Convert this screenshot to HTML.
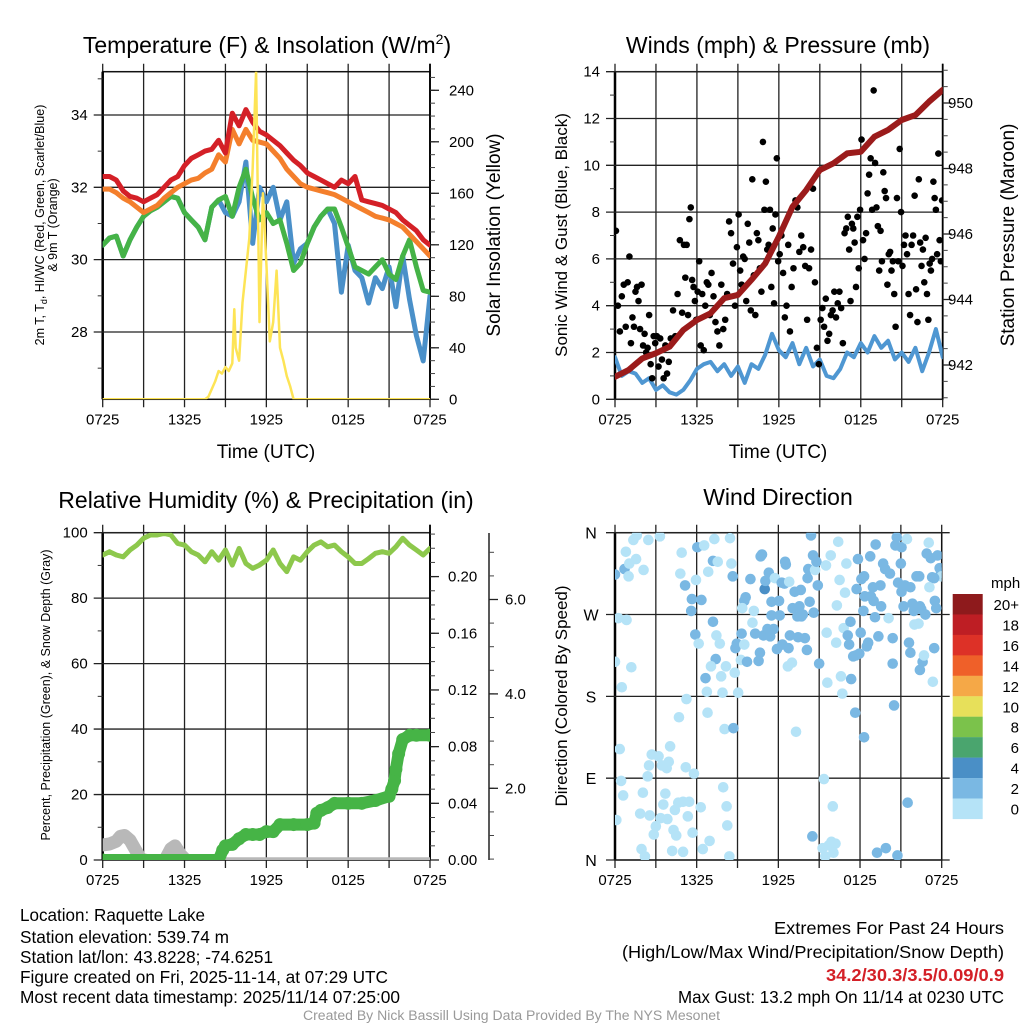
<!DOCTYPE html>
<html><head><meta charset="utf-8">
<style>
html,body{margin:0;padding:0;background:#fff;}
svg{display:block;font-family:"Liberation Sans",sans-serif;}
</style></head>
<body>
<svg id="fig" width="1024" height="1024" viewBox="0 0 1024 1024" xmlns="http://www.w3.org/2000/svg">
<defs>
<clipPath id="c1"><rect x="102.7" y="71.7" width="327.3" height="327.6"/></clipPath>
<clipPath id="c2"><rect x="615" y="71.7" width="327.7" height="327.6"/></clipPath>
<clipPath id="c3"><rect x="102.7" y="532.7" width="327.3" height="327.3"/></clipPath>
<clipPath id="c4"><rect x="615" y="532.7" width="326.7" height="327.3"/></clipPath>
</defs>
<text x="267" y="53" font-size="23" text-anchor="middle">Temperature (F) &amp; Insolation (W/m<tspan font-size="14" dy="-9">2</tspan><tspan dy="9">)</tspan></text>
<text x="778" y="53" font-size="23" text-anchor="middle">Winds (mph) &amp; Pressure (mb)</text>
<text x="266" y="508" font-size="23" text-anchor="middle">Relative Humidity (%) &amp; Precipitation (in)</text>
<text x="778" y="505" font-size="23" text-anchor="middle">Wind Direction</text>

<text transform="translate(44,225) rotate(-90)" font-size="12.5" text-anchor="middle">2m T, T<tspan font-size="9" dy="3">d</tspan><tspan dy="-3">, HI/WC (Red, Green, Scarlet/Blue)</tspan></text>
<text transform="translate(57,225) rotate(-90)" font-size="12.5" text-anchor="middle">&amp; 9m T (Orange)</text>
<text transform="translate(500,235) rotate(-90)" font-size="19" text-anchor="middle">Solar Insolation (Yellow)</text>
<text transform="translate(567,235) rotate(-90)" font-size="17" text-anchor="middle">Sonic Wind &amp; Gust (Blue, Black)</text>
<text transform="translate(1014,235) rotate(-90)" font-size="19" text-anchor="middle">Station Pressure (Maroon)</text>
<text transform="translate(50,695) rotate(-90)" font-size="12.5" text-anchor="middle">Percent, Precipitation (Green), &amp; Snow Depth (Gray)</text>
<text transform="translate(567,696) rotate(-90)" font-size="17" text-anchor="middle">Direction (Colored By Speed)</text>
<text x="266" y="458" font-size="19" text-anchor="middle">Time (UTC)</text>
<text x="778" y="458" font-size="19" text-anchor="middle">Time (UTC)</text>

<g font-size="17.5">
<text x="20" y="921" textLength="185" lengthAdjust="spacingAndGlyphs">Location: Raquette Lake</text>
<text x="20" y="943" textLength="209" lengthAdjust="spacingAndGlyphs">Station elevation: 539.74 m</text>
<text x="20" y="963" textLength="253" lengthAdjust="spacingAndGlyphs">Station lat/lon: 43.8228; -74.6251</text>
<text x="20" y="983" textLength="368" lengthAdjust="spacingAndGlyphs">Figure created on Fri, 2025-11-14, at 07:29 UTC</text>
<text x="20" y="1003" textLength="380" lengthAdjust="spacingAndGlyphs">Most recent data timestamp: 2025/11/14 07:25:00</text>
</g>
<g font-size="17.5">
<text x="774" y="934" textLength="230" lengthAdjust="spacingAndGlyphs">Extremes For Past 24 Hours</text>
<text x="622" y="958" textLength="382" lengthAdjust="spacingAndGlyphs">(High/Low/Max Wind/Precipitation/Snow Depth)</text>
<text x="826" y="981" textLength="178" lengthAdjust="spacingAndGlyphs" fill="#d42027" font-weight="bold">34.2/30.3/3.5/0.09/0.9</text>
<text x="678" y="1003" textLength="326" lengthAdjust="spacingAndGlyphs">Max Gust: 13.2 mph On 11/14 at 0230 UTC</text>
</g>
<text x="303" y="1020" font-size="13.5" textLength="417" lengthAdjust="spacingAndGlyphs" fill="#999">Created By Nick Bassill Using Data Provided By The NYS Mesonet</text>
</svg>
<script>
// ---- time axis
const xTickLabels = ["0725","1325","1925","0125","0725"];
// ---- panel 1 data (half-hourly, hours 0..24)
const tempRed = [32.3,32.3,32.2,31.9,31.75,31.7,31.6,31.7,31.8,32.0,32.2,32.3,32.6,32.8,32.9,33.0,33.05,33.3,32.95,34.05,33.7,34.15,33.8,33.55,33.45,33.3,33.15,32.95,32.75,32.6,32.4,32.3,32.2,32.1,32.0,32.2,32.1,32.3,31.65,31.6,31.55,31.5,31.4,31.3,31.1,30.95,30.8,30.55,30.4];
const temp9m = [31.95,31.95,31.85,31.7,31.6,31.45,31.3,31.4,31.5,31.7,31.85,32.0,32.1,32.2,32.25,32.4,32.5,32.9,32.7,33.6,33.2,33.6,33.3,33.25,33.2,33.0,32.8,32.5,32.3,32.1,32.0,31.95,31.9,31.85,31.8,31.7,31.6,31.5,31.4,31.3,31.2,31.15,31.1,31.0,30.9,30.7,30.5,30.3,30.1];
const tempGreen = [30.4,30.6,30.65,30.1,30.55,30.9,31.2,31.35,31.45,31.6,31.75,31.7,31.3,31.1,30.9,30.55,31.45,31.65,31.75,31.2,32.0,32.5,31.7,31.1,31.3,31.0,31.1,30.45,29.7,29.9,30.45,30.9,31.2,31.4,31.4,30.9,30.35,29.8,29.7,29.6,29.8,30.0,29.6,29.45,30.1,30.55,29.8,29.15,29.1];
const tempBlue = [30.4,30.6,30.65,30.1,30.55,30.9,31.2,31.35,31.45,31.6,31.75,31.7,31.3,31.1,30.9,30.55,31.45,31.65,31.3,31.2,31.6,32.7,30.45,32.0,31.6,32.0,31.1,31.6,29.9,30.3,30.45,30.9,31.2,31.4,31.0,29.1,30.4,29.7,29.5,28.8,29.5,29.2,29.8,28.7,30.1,28.9,27.9,27.2,29.0];
const solarHours = [0,7.5,7.75,8,8.25,8.5,8.75,9,9.25,9.5,9.65,9.75,10,10.25,10.5,10.75,11,11.25,11.5,11.75,12,12.25,12.5,12.75,13,13.25,13.5,13.75,14,24];
const solarValues = [0,0,2,8,14,22,20,25,22,28,70,40,30,75,100,125,180,255,60,160,105,45,60,100,40,30,18,10,0,0];
// ---- panel 2 data
const windSonic = [1.8,1.0,1.2,1.1,0.7,0.9,0.4,0.6,0.3,0.2,0.4,0.8,1.3,1.5,1.6,1.2,1.5,1.0,1.4,0.7,1.5,1.3,1.9,2.8,2.1,1.8,2.4,1.5,2.2,1.4,1.7,1.0,0.9,1.3,2.0,1.8,2.4,2.0,2.7,2.2,2.5,1.7,2.0,1.6,2.2,1.2,2.0,3.0,1.8];
const gustByHour = [
[7.2,4.0,2.9,4.4,4.9,3.1,5.0],[6.1,2.4,3.5,3.1,4.6,4.8,4.2,3.0,4.9],[2.3,2.8,2.0,2.2,3.6,1.5,0.9,2.7,2.4],
[2.7,1.4,2.6,1.7,0.9,2.3,1.1,1.6],[2.6,3.8,2.7,4.5,6.8,3.7],[6.6,5.2,6.6,3.6,7.7,8.2,5.1,4.8,4.2,3.4],
[4.6,5.9,2.3,4.5,2.1,4.0,5.0,4.9,3.6],[5.4,4.4,3.3,2.9,2.3,4.9,3.0],[3.4,4.5,7.6,7.1,5.8,4.0,6.5],
[7.9,5.5,4.9,6.1,6.0,4.2,7.5,6.7,3.8],[9.4,5.3,3.6,7.1,6.8,5.6,4.6,11.0,8.1],[9.3,6.4,6.6,8.1,4.8,7.3,4.1,7.9,10.3,5.9],
[6.2,7.0,5.4,3.5,4.0,6.6,2.9,4.8],[5.6,8.5,8.2,6.3,7.0,6.5,5.7],[3.4,5.6,6.4,9.0,5.0,2.2,1.5],
[3.4,3.9,3.1,4.3,2.5,2.8,3.6,3.8],[4.6,3.5,4.1,4.6,3.9,2.4,7.1,7.3],[7.8,6.4,4.2,7.5,7.3,6.7,4.8,7.8,5.6,8.1],
[11.1,6.8,6.0,7.1,8.8,9.6,10.3,8.1,13.2],[10.1,8.2,7.4,5.5,7.2,5.9,9.7,8.9,8.6,4.9],[6.2,6.3,5.5,5.9,4.5,3.1,8.6,5.9,10.7,8.0],
[5.7,6.6,7.0,6.2,4.5,3.6,6.6,7.0,8.7],[4.7,3.3,9.4,6.7,5.7,6.4,5.0,6.9,4.5,3.4],[5.8,5.5,6.0,9.3,8.6,8.1,6.2,10.5,6.8,5.9,8.5]];
const pressure = [941.64,941.85,942.2,942.36,942.56,943.07,943.37,943.58,944.04,944.14,944.6,945.1,945.92,946.83,947.34,947.95,948.16,948.46,948.51,948.97,949.18,949.48,949.63,950.04,950.4];
// ---- panel 3 data
const rh = [93.2,94.2,93.2,92.6,94.7,96.2,98.3,99.3,99.3,99.8,99.3,96.7,96.2,94.2,93.2,91.1,94.2,91.6,94.7,90.1,95.2,90.6,89.1,90.1,91.6,94.7,90.6,88.1,92.6,91.6,94.2,96.2,97.2,95.7,96.2,94.2,92.6,90.6,90.6,92.1,93.7,94.2,93.7,95.7,98.3,96.2,94.7,93.2,95.2];
const precipHours = [0,8.5,8.8,9,9.5,10,10.5,11,11.5,12,12.5,13,14,15,15.5,15.7,16,16.5,17,18,19,20,21,21.2,21.4,21.5,21.7,22,22.5,23,24];
const precipValues = [0,0,0.007,0.01,0.011,0.015,0.018,0.018,0.018,0.02,0.02,0.025,0.025,0.025,0.026,0.033,0.035,0.037,0.04,0.04,0.04,0.042,0.045,0.05,0.056,0.064,0.075,0.085,0.088,0.088,0.088];
const snowHours = [0,0.5,1,1.3,1.6,2,2.4,2.8,3.5,4.5,5,5.3,5.7,6.2,8,24];
const snowValues = [0.8,0.82,0.88,0.98,1.0,0.9,0.7,0.5,0.45,0.45,0.72,0.78,0.6,0.45,0.4,0.4];
// ---- panel 4 data
const dirHours = [0,0.7,0.8,1.05,1.35,1.6,1.55,2.1,2.45,3.3,1,0.25,0.85,0,1.2,0.5,0.35,0.45,0.6,0.1,1.95,2.2,1.85,2.55,2.05,2.4,2.5,2.7,3.2,3.45,3.8,3.95,4.05,3.7,3.55,3.35,3,2.85,3.85,4.3,4.5,4.2,5,4.4,4.65,5,5.45,5.35,5.2,5.7,5.8,4.7,5.25,4.8,4.9,5.15,5.65,5.6,6.05,5.95,5.9,6.15,6.35,6.55,6.85,7.2,7.3,7.55,7.2,7.45,7.7,7.4,7.05,6.65,6.75,6.8,7.8,7.9,8.15,8.05,8.45,8.55,8.65,8.7,8.2,8.25,8.4,6.45,6.95,6.3,7.95,8.8,8.85,8.95,9.3,9.5,9.25,9.7,9.05,9.5,9.6,9.35,9.95,10.1,10.2,10.3,10.65,10.55,10.8,10.7,10.9,11,11.05,11.3,11.2,11.4,11.5,11.5,11.65,11.75,11.9,12.05,12.1,12.3,12.25,12.45,12.5,12.55,12.75,12.8,12.85,13.05,13.2,13.4,13.45,13.55,13.65,13.7,13.8,13.95,14.1,14.15,14.2,14.3,14.55,14.6,14.7,14.8,14.9,15,12.7,13,13.3,14.4,14.5,15.25,15.45,15.7,15.9,16.2,16.05,15.35,16,15.55,15.6,15.5,15.85,16.3,16.25,16.4,16.5,16.6,16.7,16.8,16.9,17,17.1,17.2,17.3,17.35,17.5,17.7,17.85,17.95,18.05,18.1,17.75,18.25,18.3,18.35,18.5,18.6,18.75,18.8,19,18.95,19.1,19.15,19.35,19.5,19.55,17.65,18.3,19.25,19.9,19.7,19.85,20.1,20.2,20.4,20.4,20.6,20.7,20.8,21,21.05,21.2,21.45,21.3,21.7,21.05,21.6,21.7,20.5,21.5,20.75,21.85,21.95,22.15,22.3,22,22.4,22.5,22.6,22.4,22.7,22.8,22.9,23.05,23.1,23.2,23.3,23.45,23.35,23.5,23.6,23.7,23.85,23.95,24,23.45,22.35];
const dirValues = [314,320,339,326,352,357,331,319,352,356,312,266,264,218,212,190,122,87,71,44,12,4,51,49,74,92,104,116,114,104,101,108,125,73,61,46,37,28,45,33,27,10,9,55,63,64,64,48,102,30,95,157,177,315,338,302,287,274,344,308,248,238,286,346,317,329,353,328,262,247,238,221,213,200,185,162,202,184,213,144,354,326,312,145,59,38,4,12,21,58,80,206,233,238,249,237,220,218,184,285,289,277,309,261,274,249,228,219,336,334,247,298,307,316,254,246,284,269,254,310,232,285,269,237,305,304,328,325,233,306,247,277,295,268,245,279,297,268,270,244,231,310,320,284,335,272,319,328,302,216,213,217,141,357,26,13,4,16,20,18,8,89,59,250,195,324,335,280,239,350,308,202,183,255,294,326,247,237,262,199,224,225,331,227,250,309,298,274,312,290,235,239,334,290,285,300,267,347,246,302,279,162,135,8,13,326,320,266,315,244,216,346,355,305,326,344,279,353,302,300,295,239,228,170,63,5,282,274,312,260,259,279,276,218,209,225,270,337,349,300,332,311,233,196,285,277,335,321,316,312,310,312];
const dirSpeeds = [3,3,1,1,1,1,1,1,1,1,1,1,1,1,1,1,1,1,1,1,1,1,1,1,1,1,1,1,1,1,1,1,1,1,1,1,1,1,1,1,1,1,1,1,1,1,1,1,1,1,1,1,1,1,1,3,3,3,3,1,3,1,3,1,1,3,1,1,3,1,1,3,1,3,1,1,1,1,1,1,1,1,3,3,1,1,1,1,1,1,1,1,3,3,3,1,1,3,1,3,3,1,3,1,1,3,3,3,3,3,3,5,3,3,3,3,3,3,3,1,3,3,3,3,3,3,3,3,3,1,3,3,3,3,3,3,3,3,3,3,3,3,3,3,3,3,1,3,3,3,1,1,1,3,3,1,1,1,1,1,1,1,1,1,1,1,1,1,1,1,1,1,1,1,1,1,3,3,3,3,3,3,3,3,3,3,3,3,3,3,3,3,3,3,3,3,3,3,3,3,3,3,3,3,3,3,3,1,3,3,3,3,3,3,3,3,3,1,3,3,3,3,3,3,3,3,3,3,3,1,1,3,3,3,3,1,3,3,1,1,3,3,3,1,3,3,3,3,3,1,3,3,3,3,3,3,3,3,3,3];
const cbLabels = ["20+","18","16","14","12","10","8","6","4","2","0"];
const cbColors = ["#8e1a1c","#be1e24","#dd3127","#ef6029","#f5a847","#e7e05a","#7bc24b","#4aa56e","#4a8fc6","#7ab8e3","#b5e3f7"];

const NS = "http://www.w3.org/2000/svg";
const svg = document.getElementById("fig");
function mk(tag, attrs, parent){const e=document.createElementNS(NS,tag);for(const k in attrs)e.setAttribute(k,attrs[k]);(parent||svg).appendChild(e);return e;}
function halfHours(arr){return arr.map((v,i)=>i*0.5);}
function pathOf(xs,ys,sx,sy){return xs.map((h,i)=>(i?"L":"M")+sx(h).toFixed(1)+","+sy(ys[i]).toFixed(1)).join("");}

function frame(P, name){
  const g=mk("g",{});
  
  
  for(let k=0;k<=8;k++){
    const x=P.L+(P.R-P.L)*k/8;
    const l=mk("line",{x1:x,x2:x,y1:P.T-8,y2:P.B+8,stroke:"#222","stroke-width":1.3},g);
    
    
    if(k%2===0){
      const t=mk("text",{x:x,y:P.B+25,"font-size":15,"text-anchor":"middle"},g);
      t.textContent=xTickLabels[k/2];
      
      
    }
  }
  mk("rect",{x:P.L,y:P.T,width:P.R-P.L,height:P.B-P.T,fill:"none",stroke:"#111","stroke-width":1.5},g);
  mk("line",{x1:P.L,x2:P.L,y1:P.T,y2:P.B,stroke:"#000","stroke-width":2.5},g);
  return g;
}
function leftAxis(g,P,sy,majors,minors,fmt,gridOn){
  minors.forEach(v=>mk("line",{x1:P.L-5,x2:P.L,y1:sy(v),y2:sy(v),stroke:"#333","stroke-width":1},g));
  majors.forEach(v=>{
    const y=sy(v);
    if(gridOn) mk("line",{x1:P.L-9,x2:P.R,y1:y,y2:y,stroke:"#222","stroke-width":1.3},g);
    else mk("line",{x1:P.L-9,x2:P.L,y1:y,y2:y,stroke:"#222","stroke-width":1.3},g);
    const t=mk("text",{x:P.L-15,y:y+5,"font-size":15,"text-anchor":"end"},g);
    t.textContent=fmt(v);
    
    
  });
}
function rightAxis(g,x,sy,majors,minors,fmt,lblX){
  minors.forEach(v=>mk("line",{x1:x,x2:x+5,y1:sy(v),y2:sy(v),stroke:"#444","stroke-width":1},g));
  majors.forEach(v=>{
    const y=sy(v);
    mk("line",{x1:x,x2:x+9,y1:y,y2:y,stroke:"#222","stroke-width":1.3},g);
    const t=mk("text",{x:lblX,y:y+5,"font-size":15},g);
    t.textContent=fmt(v);
    
    
  });
}
function range(a,b,s){const r=[];for(let v=a;v<=b+1e-9;v+=s)r.push(+v.toFixed(4));return r;}

// ===== Panel 1
{
const P={L:102.7,R:430,T:71.7,B:399.3};
const sx=h=>P.L+(P.R-P.L)*h/24;
const sy=v=>332-(v-28)*36.17;
const sw=w=>399.3-w*1.2875;
const g=frame(P,"temperature");
leftAxis(g,P,sy,[28,30,32,34],[27,29,31,33,35],v=>v,true);
mk("line",{x1:P.R,x2:P.R,y1:P.T-8,y2:P.B,stroke:"#000","stroke-width":1.8},g);
rightAxis(g,P.R,sw,range(0,240,40),range(0,250,10),v=>v,449);
const d=mk("g",{"clip-path":"url(#c1)",fill:"none","stroke-linejoin":"round","stroke-linecap":"round"});
const hh=halfHours(tempRed);
let p;
p=mk("path",{d:pathOf(hh,tempBlue,sx,sy),stroke:"#4a90c9","stroke-width":5},d);


p=mk("path",{d:pathOf(hh,tempGreen,sx,sy),stroke:"#45b347","stroke-width":5},d);


p=mk("path",{d:pathOf(hh,temp9m,sx,sy),stroke:"#f47f2c","stroke-width":5},d);


p=mk("path",{d:pathOf(hh,tempRed,sx,sy),stroke:"#d42027","stroke-width":5},d);


p=mk("path",{d:pathOf(solarHours,solarValues,sx,sw),stroke:"#fde456","stroke-width":2.5},d);


}
// ===== Panel 2
{
const P={L:615,R:942.7,T:71.7,B:399.3};
const sx=h=>P.L+(P.R-P.L)*h/24;
const sy=v=>P.B-v*23.4;
const sp=p=>365-(p-942)*32.75;
const g=frame(P,"winds");
leftAxis(g,P,sy,range(0,14,2),range(1,13,2),v=>v,true);
mk("line",{x1:P.R,x2:P.R,y1:P.T-8,y2:P.B,stroke:"#000","stroke-width":1.8},g);
rightAxis(g,P.R,sp,[942,944,946,948,950],range(941,951,0.5),v=>v,948);
const d=mk("g",{"clip-path":"url(#c2)","stroke-linejoin":"round","stroke-linecap":"round"});
let p=mk("path",{d:pathOf(halfHours(windSonic),windSonic,sx,sy),stroke:"#4f97d2","stroke-width":4,fill:"none"},d);


gustByHour.forEach((vals,h)=>vals.forEach((v,j)=>{
  const c=mk("circle",{cx:sx(h+(j+0.5)/vals.length),cy:sy(v),r:3.3,fill:"#000"},d);
  
  
}));
p=mk("path",{d:pathOf(pressure.map((v,i)=>i),pressure,sx,sp),stroke:"#9b1b1b","stroke-width":6,fill:"none"},d);


}
// ===== Panel 3
{
const P={L:102.7,R:430,T:532.7,B:860};
const sx=h=>P.L+(P.R-P.L)*h/24;
const sy=v=>P.B-v*3.273;
const spr=v=>P.B-v*1417;
const ss=v=>882.7-v*47.2;
const g=frame(P,"humidity");
leftAxis(g,P,sy,range(0,100,20),range(10,90,20),v=>v,true);
mk("line",{x1:P.R,x2:P.R,y1:P.T-8,y2:P.B,stroke:"#000","stroke-width":1.8},g);
rightAxis(g,P.R,spr,range(0,0.2,0.04),range(0,0.23,0.01),v=>v.toFixed(2),448);
mk("line",{x1:489,x2:489,y1:533,y2:860,stroke:"#222","stroke-width":1.5},g);
rightAxis(g,489,ss,[2,4,6],range(0.5,7,0.5),v=>v.toFixed(1),505);
const d=mk("g",{"clip-path":"url(#c3)","stroke-linejoin":"round","stroke-linecap":"round",fill:"none"});
let p=mk("path",{d:pathOf(snowHours,snowValues,sx,ss),stroke:"#b8b8b8","stroke-width":13},d);


p=mk("path",{d:pathOf(precipHours,precipValues,sx,spr),stroke:"#46b446","stroke-width":12},d);


precipHours.forEach((h,i)=>{
  const c=mk("circle",{cx:sx(h),cy:spr(precipValues[i]),r:6.5,fill:"#46b446"},d);
  
  
});
p=mk("path",{d:pathOf(halfHours(rh),rh,sx,sy),stroke:"#8dc84c","stroke-width":5},d);


}
// ===== Panel 4
{
const P={L:615,R:941.7,T:532.7,B:860};
const sx=h=>P.L+(P.R-P.L)*h/24;
const sy=v=>P.B-v*(P.B-P.T)/360;
const g=frame(P,"wind-direction");
const dl=["N","E","S","W","N"];
[0,90,180,270,360].forEach((v,i)=>{
  const y=sy(v);
  mk("line",{x1:P.L-9,x2:P.R+8,y1:y,y2:y,stroke:"#222","stroke-width":1.3},g);
  const t=mk("text",{x:591,y:y+6,"font-size":16,"text-anchor":"middle"},g);
  t.textContent=dl[i];
  
  
});
const d=mk("g",{"clip-path":"url(#c4)"});
dirHours.forEach((h,i)=>{
  const s=dirSpeeds[i];
  const col=cbColors[10-Math.min(10,Math.floor(s/2))];
  const c=mk("circle",{cx:sx(h),cy:sy(dirValues[i]),r:5.3,fill:col},d);
  
  
});
const cb=mk("g",{});


const t0=mk("text",{x:991,y:588,"font-size":15},cb);
t0.textContent="mph";
cbColors.forEach((c,i)=>{
  const y=594+i*20.45;
  mk("rect",{x:952.7,y:y,width:30,height:20.6,fill:c},cb);
  const t=mk("text",{x:1019,y:y+16,"font-size":15,"text-anchor":"end"},cb);
  t.textContent=cbLabels[i];
  
  
});
}
</script>
</body></html>
